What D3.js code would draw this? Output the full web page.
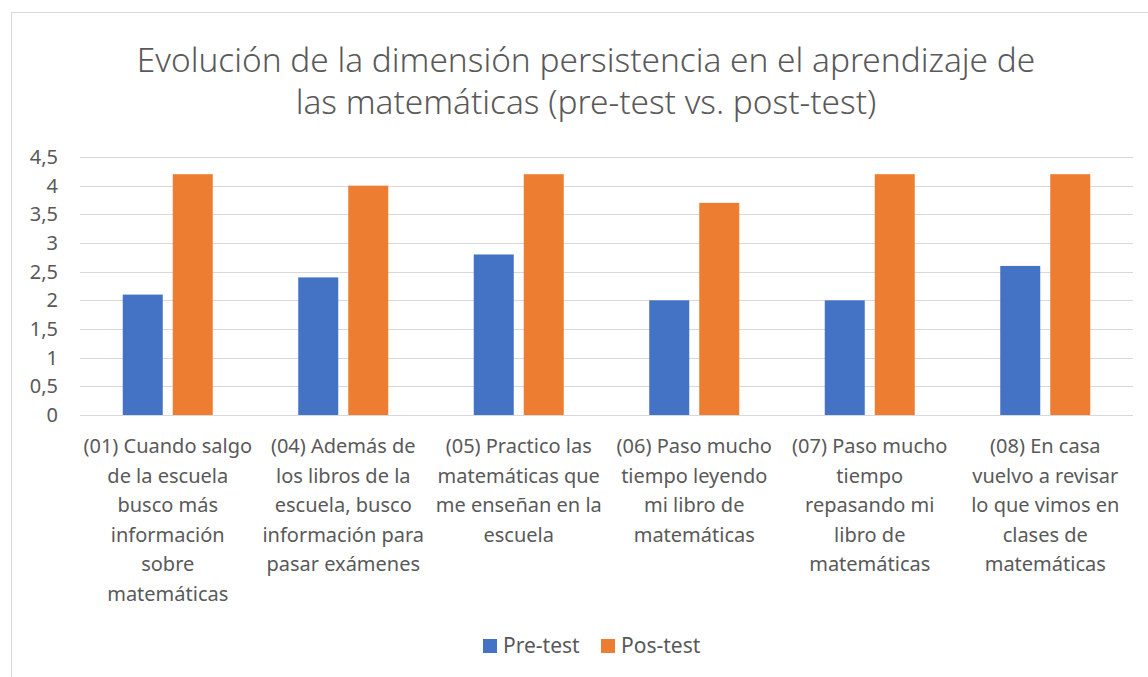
<!DOCTYPE html>
<html>
<head>
<meta charset="utf-8">
<script src="https://cdn.jsdelivr.net/npm/d3@7"></script>
<style>
  body { margin: 0; background: #fff; }
  text { font-family: "Noto Sans", sans-serif; fill: #595959; }
</style>
</head>
<body>
<div></div>
<script>
// datos del grafico
var categorias = [
  ["(01) Cuando salgo", "de la escuela", "busco más", "información", "sobre", "matemáticas"],
  ["(04) Además de", "los libros de la", "escuela, busco", "información para", "pasar exámenes"],
  ["(05) Practico las", "matemáticas que", "me enseñan en la", "escuela"],
  ["(06) Paso mucho", "tiempo leyendo", "mi libro de", "matemáticas"],
  ["(07) Paso mucho", "tiempo", "repasando mi", "libro de", "matemáticas"],
  ["(08) En casa", "vuelvo a revisar", "lo que vimos en", "clases de", "matemáticas"]
];
var preTest = [2.1, 2.4, 2.8, 2.0, 2.0, 2.6];
var posTest = [4.2, 4.0, 4.2, 3.7, 4.2, 4.2];
var series = ["Pre-test", "Pos-test"];
var ticksY = [0, 0.5, 1, 1.5, 2, 2.5, 3, 3.5, 4, 4.5];
var titulo = ["Evolución de la dimensión persistencia en el aprendizaje de",
              "las matemáticas (pre-test vs. post-test)"];

var width = 1148, height = 677;
var colores = d3.scaleOrdinal().domain(series).range(["#4472C4", "#ED7D31"]);

var svg = d3.select('div')
  .append('svg')
  .attr('width', width)
  .attr('height', height);

// marco del grafico
svg.append('rect')
  .attr('x', 11.5).attr('y', 12.5)
  .attr('width', 1200).attr('height', 700)
  .attr('fill', 'none')
  .attr('stroke', '#d9d9d9');

// titulo
svg.append('g').selectAll('text')
  .data(titulo)
  .enter()
  .append('text')
  .attr('x', 586)
  .attr('y', (d, i) => 72 + i * 42)
  .attr('text-anchor', 'middle')
  .style('font-size', '33.4px')
  .style('font-weight', 300)
  .text(d => d);

// escalas
var x0 = 80, x1 = 1133, y0 = 415, y1 = 157;
var scaleX = d3.scaleBand()
  .domain(d3.range(categorias.length))
  .range([x0, x1]);

var scaleY = d3.scaleLinear()
  .domain([0, 4.5])
  .range([y0, y1]);

var barW = 40, gap = 10;

// lineas de cuadricula
svg.append('g').selectAll('line')
  .data(ticksY)
  .enter()
  .append('line')
  .attr('x1', x0).attr('x2', x1)
  .attr('y1', d => Math.round(scaleY(d)) + 0.5)
  .attr('y2', d => Math.round(scaleY(d)) + 0.5)
  .attr('stroke', '#d9d9d9')
  .attr('stroke-width', 1);

// etiquetas del eje Y
svg.append('g').selectAll('text')
  .data(ticksY)
  .enter()
  .append('text')
  .attr('x', 58)
  .attr('y', d => scaleY(d) + 7)
  .attr('text-anchor', 'end')
  .style('font-size', '20px')
  .text(d => String(d).replace('.', ','));

// barras
var datos = [preTest, posTest];
datos.forEach((serie, s) => {
  svg.append('g').selectAll('rect')
    .data(serie)
    .enter()
    .append('rect')
    .attr('x', (d, i) => scaleX(i) + scaleX.bandwidth() / 2 - barW - gap / 2 + s * (barW + gap))
    .attr('y', d => scaleY(d))
    .attr('width', barW)
    .attr('height', d => y0 - scaleY(d))
    .attr('fill', colores(series[s]));
});

// etiquetas del eje X
var etiquetas = svg.append('g').selectAll('text')
  .data(categorias)
  .enter()
  .append('text')
  .attr('text-anchor', 'middle')
  .style('font-size', '20px');

etiquetas.selectAll('tspan')
  .data((d, i) => d.map(l => ({ l: l, i: i })))
  .enter()
  .append('tspan')
  .attr('x', d => scaleX(d.i) + scaleX.bandwidth() / 2)
  .attr('y', (d, j) => 453 + j * 29.6)
  .text(d => d.l);

// leyenda
var leyenda = svg.append('g').selectAll('g')
  .data(series)
  .enter()
  .append('g')
  .attr('transform', (d, i) => 'translate(' + (483 + i * 118) + ',639)');

leyenda.append('rect')
  .attr('width', 14).attr('height', 14)
  .attr('fill', d => colores(d));

leyenda.append('text')
  .attr('x', 20)
  .attr('y', 14)
  .style('font-size', '21px')
  .text(d => d);
</script>
</body>
</html>
